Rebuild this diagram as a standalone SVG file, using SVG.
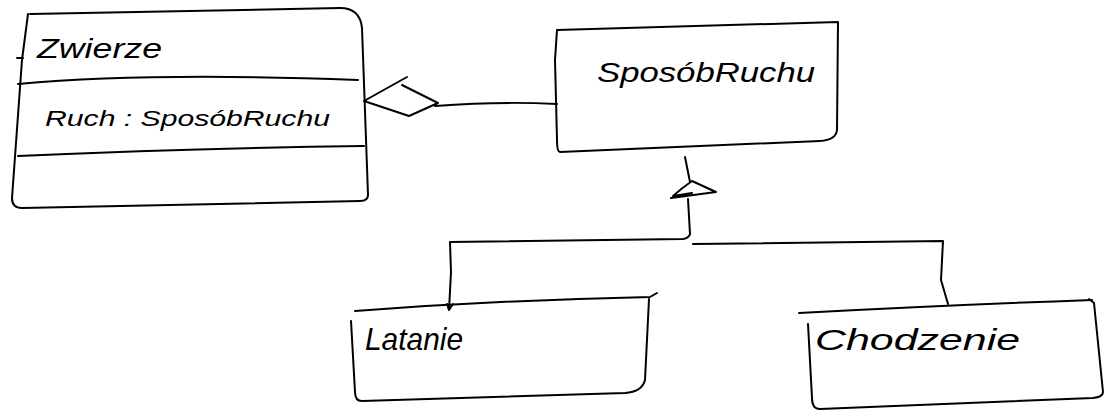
<svg xmlns="http://www.w3.org/2000/svg" width="1109" height="410" viewBox="0 0 1109 410">
<style>
.s{fill:none;stroke:#000;stroke-width:2;stroke-linecap:round;stroke-linejoin:round}
.t{font-family:"Liberation Sans",Arial,sans-serif;font-style:italic;fill:#000}
</style>
<rect width="1109" height="410" fill="#fff"/>
<g id="zwierze">
<path class="s" d="M30,14 L340,8 Q360,8 362,28 L368,195 Q368,201 360,201 L22,208 Q12,208 12,198 L22,60 L28,14"/>
<path class="s" d="M17,58 L23,58"/>
<path class="s" d="M18,84 Q150,72 358,80"/>
<path class="s" d="M18,156 Q200,148 364,146"/>
<text class="t" x="37" y="58" font-size="28" textLength="125" lengthAdjust="spacingAndGlyphs">Zwierze</text>
<text class="t" x="45" y="126" font-size="22" textLength="285" lengthAdjust="spacingAndGlyphs">Ruch : SposóbRuchu</text>
</g>
<g id="sposob">
<path class="s" d="M557,30 Q700,26 838,22 L837,130 Q836,140 820,141 L560,152 Q557,152 557,140 L555,60 L557,30"/>
<text class="t" x="597" y="82" font-size="28" textLength="218" lengthAdjust="spacingAndGlyphs">SposóbRuchu</text>
</g>
<g id="latanie">
<path class="s" d="M355,311 Q500,300 650,297 L657,293"/>
<path class="s" d="M649,299 L645,380 Q642,392 625,393 L362,401 Q355,401 355,392 L351,321"/>
<text class="t" x="365" y="350" font-size="32" textLength="98" lengthAdjust="spacingAndGlyphs">Latanie</text>
</g>
<g id="chodzenie">
<path class="s" d="M799,313 Q950,305 1092,300"/>
<path class="s" d="M1089,299 L1094,303 L1103,392 Q1103,397 1093,398 L820,409 Q812,409 812,398 L808,324"/>
<text class="t" x="815" y="350" font-size="30" textLength="205" lengthAdjust="spacingAndGlyphs">Chodzenie</text>
</g>
<g id="connectors">
<path class="s" d="M407,77 L364,101 L409,116 L438,103 L402,85"/>
<path class="s" d="M435,106 Q500,101 557,104"/>
<path class="s" d="M685,157 L690,182"/>
<path class="s" d="M671,198 L716,192 L692,181 Q682,188 673,196 L692,193"/>
<path class="s" d="M688,199 L690,234 Q689,238 683,239 L450,242 L451,272 L449,310 L447,304 M449,310 L453,304"/>
<path class="s" d="M693,244 L943,241 L941,280 L948,304"/>
</g>
</svg>
